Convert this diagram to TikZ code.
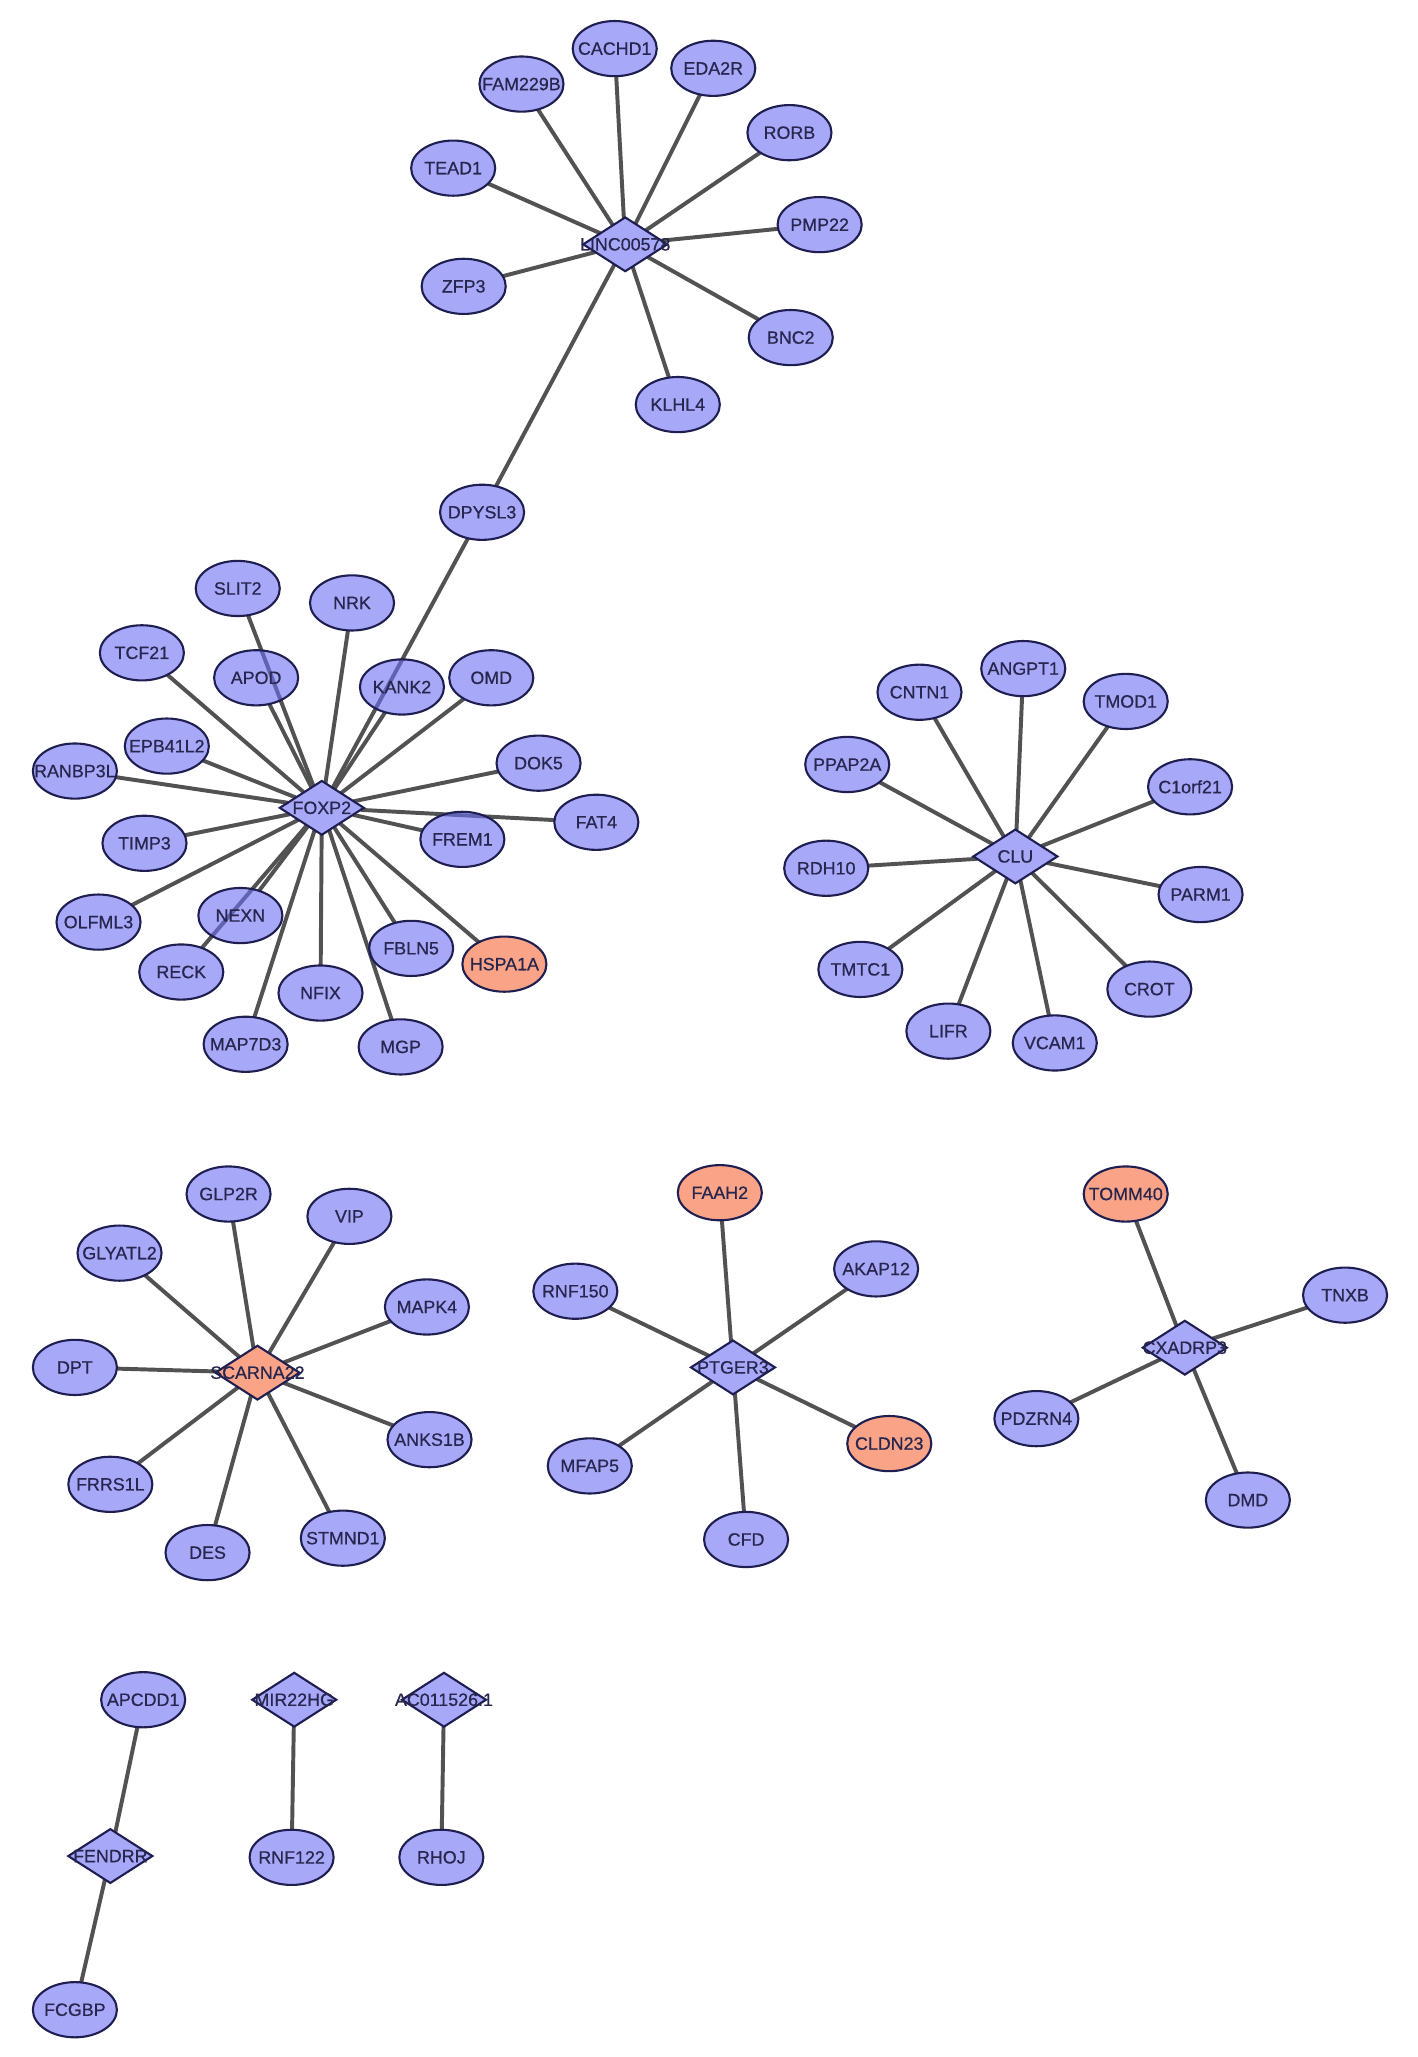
\documentclass[tikz,border=0pt]{standalone}
\usepackage{fontspec}
\setmainfont{Liberation Sans}
\newfontfamily\nodefont{Liberation Sans}[FakeBold=0.6]
\usetikzlibrary{shapes.geometric}
\pgfdeclarelayer{bg}
\pgfsetlayers{bg,main}
\definecolor{blu}{RGB}{110,110,245}
\definecolor{org}{RGB}{247,102,55}
\definecolor{bord}{RGB}{30,30,80}
\definecolor{edgec}{RGB}{82,82,82}
\definecolor{txt}{RGB}{38,38,78}
\newcommand\lb[1]{\makebox[0pt]{#1}}
\tikzset{
  base/.style={draw=bord, line width=1.6pt, fill opacity=0.6, draw opacity=1, text opacity=1,
    text=txt, inner sep=0pt, outer sep=0pt, font=\nodefont\fontsize{13.6}{15}\selectfont},
  gene/.style={base, ellipse, fill=blu, minimum width=64pt, minimum height=42pt},
  geneo/.style={gene, fill=org},
  hub/.style={base, diamond, fill=blu, minimum width=64pt, minimum height=41pt},
  hubo/.style={hub, fill=org},
  link/.style={draw=edgec, line width=3pt}
}
\begin{document}
\begin{tikzpicture}[x=1pt,y=-1pt]
\useasboundingbox (0,0) rectangle (1079,1566);
% LINC00578 cluster
\node[hub]  (linc)    at (476,186) {\lb{LINC00578}};
\node[gene] (cachd1)  at (468,37)  {\lb{CACHD1}};
\node[gene] (fam229b) at (397,64)  {\lb{FAM229B}};
\node[gene] (eda2r)   at (543,52)  {\lb{EDA2R}};
\node[gene] (rorb)    at (601,101) {\lb{RORB}};
\node[gene] (tead1)   at (345,128) {\lb{TEAD1}};
\node[gene] (pmp22)   at (624,171) {\lb{PMP22}};
\node[gene] (zfp3)    at (353,218) {\lb{ZFP3}};
\node[gene] (bnc2)    at (602,257) {\lb{BNC2}};
\node[gene] (klhl4)   at (516,308) {\lb{KLHL4}};
\node[gene] (dpysl3)  at (367,390) {\lb{DPYSL3}};
% FOXP2 cluster
\node[hub]  (foxp2)   at (245,615) {\lb{FOXP2}};
\node[gene] (slit2)   at (181,448) {\lb{SLIT2}};
\node[gene] (nrk)     at (268,459) {\lb{NRK}};
\node[gene] (tcf21)   at (108,497) {\lb{TCF21}};
\node[gene] (apod)    at (195,516) {\lb{APOD}};
\node[gene] (kank2)   at (306,523) {\lb{KANK2}};
\node[gene] (omd)     at (374,516) {\lb{OMD}};
\node[gene] (epb41l2) at (127,568) {\lb{EPB41L2}};
\node[gene] (dok5)    at (410,581) {\lb{DOK5}};
\node[gene] (ranbp3l) at (57,587)  {\lb{RANBP3L}};
\node[gene] (fat4)    at (454,626) {\lb{FAT4}};
\node[gene] (frem1)   at (352,639) {\lb{FREM1}};
\node[gene] (timp3)   at (110,642) {\lb{TIMP3}};
\node[gene] (olfml3)  at (75,702)  {\lb{OLFML3}};
\node[gene] (nexn)    at (183,697) {\lb{NEXN}};
\node[gene] (fbln5)   at (313,722) {\lb{FBLN5}};
\node[geneo] (hspa1a) at (384,734) {\lb{HSPA1A}};
\node[gene] (reck)    at (138,740) {\lb{RECK}};
\node[gene] (nfix)    at (244,756) {\lb{NFIX}};
\node[gene] (map7d3)  at (187,795) {\lb{MAP7D3}};
\node[gene] (mgp)     at (305,797) {\lb{MGP}};
% CLU cluster
\node[hub]  (clu)     at (773,652) {\lb{CLU}};
\node[gene] (cntn1)   at (700,527) {\lb{CNTN1}};
\node[gene] (angpt1)  at (779,509) {\lb{ANGPT1}};
\node[gene] (tmod1)   at (857,534) {\lb{TMOD1}};
\node[gene] (ppap2a)  at (645,582) {\lb{PPAP2A}};
\node[gene] (c1orf21) at (906,599) {\lb{C1orf21}};
\node[gene] (rdh10)   at (629,661) {\lb{RDH10}};
\node[gene] (parm1)   at (914,681) {\lb{PARM1}};
\node[gene] (tmtc1)   at (655,738) {\lb{TMTC1}};
\node[gene] (crot)    at (875,753) {\lb{CROT}};
\node[gene] (lifr)    at (722,785) {\lb{LIFR}};
\node[gene] (vcam1)   at (803,794) {\lb{VCAM1}};
% SCARNA22 cluster
\node[hubo] (scarna22) at (196,1045) {\lb{SCARNA22}};
\node[gene] (glp2r)   at (174,909)  {\lb{GLP2R}};
\node[gene] (vip)     at (266,926)  {\lb{VIP}};
\node[gene] (glyatl2) at (91,954)   {\lb{GLYATL2}};
\node[gene] (mapk4)   at (325,995)  {\lb{MAPK4}};
\node[gene] (dpt)     at (57,1041)  {\lb{DPT}};
\node[gene] (anks1b)  at (327,1096) {\lb{ANKS1B}};
\node[gene] (frrs1l)  at (84,1130)  {\lb{FRRS1L}};
\node[gene] (stmnd1)  at (261,1171) {\lb{STMND1}};
\node[gene] (des)     at (158,1182) {\lb{DES}};
% PTGER3 cluster
\node[hub]  (ptger3)  at (558,1041) {\lb{PTGER3}};
\node[geneo] (faah2)  at (548,908)  {\lb{FAAH2}};
\node[gene] (akap12)  at (667,966)  {\lb{AKAP12}};
\node[gene] (rnf150)  at (438,983)  {\lb{RNF150}};
\node[geneo] (cldn23) at (677,1099) {\lb{CLDN23}};
\node[gene] (mfap5)   at (449,1116) {\lb{MFAP5}};
\node[gene] (cfd)     at (568,1172) {\lb{CFD}};
% CXADRP3 cluster
\node[hub]  (cxadrp)  at (902,1026) {\lb{CXADRP3}};
\node[geneo] (tomm40) at (857,909)  {\lb{TOMM40}};
\node[gene] (tnxb)    at (1024,986) {\lb{TNXB}};
\node[gene] (pdzrn4)  at (789,1080) {\lb{PDZRN4}};
\node[gene] (dmd)     at (950,1142) {\lb{DMD}};
% small components
\node[gene] (apcdd1)  at (109,1294) {\lb{APCDD1}};
\node[hub]  (fendrr)  at (84,1413)  {\lb{FENDRR}};
\node[gene] (fcgbp)   at (57,1530)  {\lb{FCGBP}};
\node[hub]  (mir22hg) at (224,1294) {\lb{MIR22HG}};
\node[gene] (rnf122)  at (222,1414) {\lb{RNF122}};
\node[hub]  (ac011526) at (338,1294) {\lb{AC011526.1}};
\node[gene] (rhoj)    at (336,1414) {\lb{RHOJ}};
\begin{pgfonlayer}{bg}
\fill[white] (0,0) rectangle (1079,1566);
\foreach \n in {cachd1,fam229b,eda2r,rorb,tead1,pmp22,zfp3,bnc2,klhl4,dpysl3}
  \draw[link] (linc) -- (\n);
\draw[link] (dpysl3) -- (foxp2);
\foreach \n in {slit2,nrk,tcf21,apod,kank2,omd,epb41l2,dok5,ranbp3l,fat4,frem1,timp3,olfml3,nexn,fbln5,hspa1a,reck,nfix,map7d3,mgp}
  \draw[link] (foxp2) -- (\n);
\foreach \n in {cntn1,angpt1,tmod1,ppap2a,c1orf21,rdh10,parm1,tmtc1,crot,lifr,vcam1}
  \draw[link] (clu) -- (\n);
\foreach \n in {glp2r,vip,glyatl2,mapk4,dpt,anks1b,frrs1l,stmnd1,des}
  \draw[link] (scarna22) -- (\n);
\foreach \n in {faah2,akap12,rnf150,cldn23,mfap5,cfd}
  \draw[link] (ptger3) -- (\n);
\foreach \n in {tomm40,tnxb,pdzrn4,dmd}
  \draw[link] (cxadrp) -- (\n);
\draw[link] (fendrr) -- (apcdd1);
\draw[link] (fendrr) -- (fcgbp);
\draw[link] (mir22hg) -- (rnf122);
\draw[link] (ac011526) -- (rhoj);
\end{pgfonlayer}
\end{tikzpicture}
\end{document}
